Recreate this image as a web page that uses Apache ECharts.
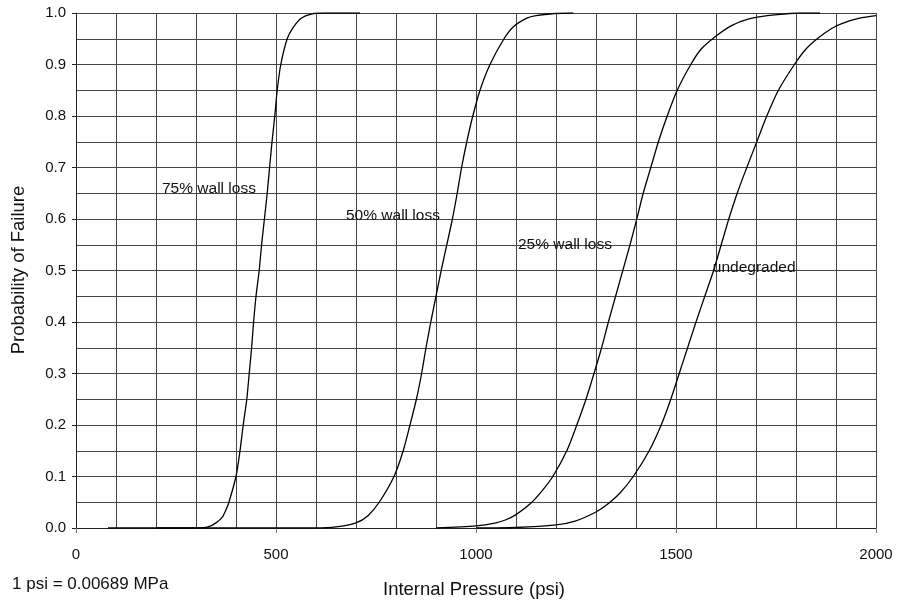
<!DOCTYPE html>
<html>
<head>
<meta charset="utf-8">
<script src="https://cdn.jsdelivr.net/npm/echarts@6/dist/echarts.min.js"></script>
<style>
  html, body { margin: 0; padding: 0; background: #fff; }
  #chart { width: 899px; height: 606px; }
</style>
</head>
<body>
<div id="chart"></div>
<script>
// Failure probability vs. internal pressure, pairs of [psi, probability]
const wallLoss75 = [
  [80, 0], [300, 0], [330, 0.002], [350, 0.01], [366, 0.021], [373, 0.032], [381, 0.047], [400, 0.1],
  [410, 0.15], [418, 0.2], [427, 0.25], [433, 0.3], [439, 0.35], [444, 0.4], [450, 0.45], [458, 0.5],
  [464, 0.55], [471, 0.6], [478, 0.65], [484, 0.7], [490, 0.75], [497, 0.8], [503, 0.85],
  [512, 0.9], [528, 0.95], [543, 0.972], [563, 0.99], [588, 0.998], [620, 1.0], [710, 1.0]
];
const wallLoss50 = [
  [200, 0], [600, 0], [650, 0.002], [700, 0.01], [730, 0.024], [758, 0.05], [795, 0.1], [818, 0.15],
  [835, 0.2], [851, 0.25], [864, 0.3], [875, 0.35], [887, 0.4], [900, 0.45], [913, 0.5],
  [927, 0.55], [941, 0.6], [953, 0.65], [964, 0.7], [977, 0.75], [992, 0.8], [1010, 0.85],
  [1035, 0.9], [1070, 0.95], [1093, 0.973], [1127, 0.99], [1150, 0.995], [1197, 0.999], [1243, 1.0]
];
const wallLoss25 = [
  [900, 0], [1000, 0.004], [1050, 0.01], [1075, 0.016], [1100, 0.026], [1137, 0.048], [1165, 0.072],
  [1192, 0.1], [1227, 0.15], [1252, 0.2], [1275, 0.25], [1295, 0.3], [1314, 0.35], [1331, 0.4],
  [1349, 0.45], [1367, 0.5], [1385, 0.55], [1402, 0.6], [1418, 0.65], [1437, 0.7], [1456, 0.75],
  [1478, 0.8], [1503, 0.85], [1537, 0.9], [1563, 0.93], [1598, 0.954], [1640, 0.976], [1680, 0.988],
  [1720, 0.994], [1770, 0.998], [1810, 1.0], [1860, 1.0]
];
const undegraded = [
  [1000, 0], [1100, 0.001], [1200, 0.006], [1250, 0.014], [1300, 0.031], [1327, 0.045], [1360, 0.068],
  [1393, 0.1], [1433, 0.15], [1463, 0.2], [1487, 0.25], [1508, 0.3], [1529, 0.35], [1550, 0.4],
  [1572, 0.45], [1594, 0.5], [1613, 0.55], [1632, 0.6], [1653, 0.65], [1677, 0.7], [1702, 0.75],
  [1727, 0.8], [1756, 0.85], [1796, 0.9], [1825, 0.93], [1853, 0.95], [1889, 0.97], [1916, 0.98],
  [1959, 0.99], [2000, 0.995]
];

// Curve captions and where they sit, in data units [psi, probability]
const seriesNames = ['75% wall loss', '50% wall loss', '25% wall loss', 'undegraded'];
const captionAt = [[215, 0.658], [675, 0.607], [1105, 0.551], [1592, 0.506]];
const curves = [wallLoss75, wallLoss50, wallLoss25, undegraded];

const FONT = '"Liberation Sans", Arial, sans-serif';

const chart = echarts.init(document.getElementById('chart'), null, { renderer: 'canvas' });

const series = curves.map((pts, i) => ({
  name: seriesNames[i],
  type: 'line',
  data: pts,
  showSymbol: false,
  smooth: 0.25,
  lineStyle: { color: '#000', width: 1.3 },
  z: 3,
  markPoint: {
    symbol: 'circle',
    symbolSize: 0,
    silent: true,
    data: [{ coord: captionAt[i], name: seriesNames[i] }],
    label: {
      show: true,
      position: 'right',
      distance: 0,
      formatter: '{b}',
      color: '#111',
      fontFamily: FONT,
      fontSize: 15.5
    }
  }
}));

chart.setOption({
  animation: false,
  backgroundColor: '#fff',
  grid: { left: 76, right: 23, top: 13, bottom: 78 },
  xAxis: {
    type: 'value',
    min: 0, max: 2000, interval: 500,
    axisLine: { show: true, lineStyle: { color: '#222', width: 1 } },
    axisTick: { show: true, length: 5, lineStyle: { color: '#777' } },
    axisLabel: {
      margin: 19, color: '#111', fontFamily: FONT, fontSize: 15,
      formatter: v => String(v)
    },
    splitLine: { show: true, lineStyle: { color: '#444', width: 1 } },
    minorTick: { show: false, splitNumber: 5 },
    minorSplitLine: { show: true, lineStyle: { color: '#444', width: 1 } }
  },
  yAxis: {
    type: 'value',
    min: 0, max: 1, interval: 0.1,
    axisLine: { show: true, lineStyle: { color: '#222', width: 1 } },
    axisTick: { show: true, length: 4, lineStyle: { color: '#222' } },
    axisLabel: {
      margin: 10, color: '#111', fontFamily: FONT, fontSize: 15,
      formatter: v => v.toFixed(1)
    },
    splitLine: { show: true, lineStyle: { color: '#444', width: 1 } },
    minorTick: { show: false, splitNumber: 2 },
    minorSplitLine: { show: true, lineStyle: { color: '#444', width: 1 } }
  },
  graphic: [
    {
      type: 'text', left: 383, top: 580,
      style: { text: 'Internal Pressure (psi)', fill: '#111', font: '18.5px ' + FONT }
    },
    {
      type: 'text', left: 12, top: 576,
      style: { text: '1 psi = 0.00689 MPa', fill: '#111', font: '17px ' + FONT }
    },
    {
      type: 'text', x: 19, y: 270, rotation: Math.PI / 2,
      style: { text: 'Probability of Failure', fill: '#111', font: '18.5px ' + FONT, align: 'center', verticalAlign: 'middle' }
    }
  ],
  series: series
});
</script>
</body>
</html>
